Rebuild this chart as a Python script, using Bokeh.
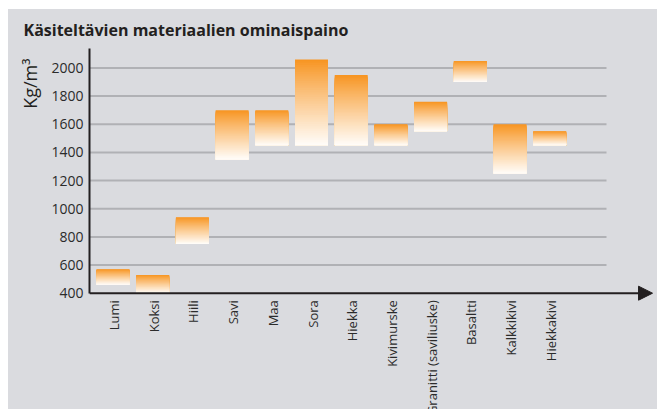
import math
from bokeh.plotting import figure
from bokeh.models import ColumnDataSource, FixedTicker, Title, Arrow, NormalHead, Range1d
from bokeh.core.properties import value
from bokeh.embed import file_html
from bokeh.resources import INLINE

# ---- data ----
categories = ["Lumi", "Koksi", "Hiili", "Savi", "Maa", "Sora", "Hiekka",
              "Kivimurske", "Granitti (saviliuske)", "Basaltti", "Kalkkikivi", "Hiekkakivi"]
low_values = [460, 400, 750, 1350, 1450, 1450, 1450, 1450, 1550, 1900, 1250, 1450]
high_values = [570, 530, 940, 1700, 1700, 2060, 1950, 1600, 1760, 2050, 1600, 1550]
y_ticks = [400, 600, 800, 1000, 1200, 1400, 1600, 1800, 2000]
title_text = "Käsiteltävien materiaalien ominaispaino"
unit_text = "Kg/m³"

BG = "#dadbdf"
DARK = "#231f20"
TXT = "#2b2b2b"
GRID = "#b0b1b5"
ORANGE = (247, 147, 30)
WHITE = (255, 253, 250)

x_start, x_end = -0.592, 13.715
y_start, y_end = -426, 2138
grid_end = 12.43
arrow_end = 13.59

p = figure(width=649, height=400, output_backend="svg", toolbar_location=None,
           x_range=Range1d(x_start, x_end), y_range=Range1d(y_start, y_end),
           x_axis_location=None, min_border_left=81, min_border_top=39,
           min_border_right=0, min_border_bottom=0, margin=(9, 0, 0, 8))
p.styles = {"background-color": BG}
p.background_fill_color = BG
p.border_fill_color = None
p.outline_line_color = None
p.xgrid.visible = False
p.ygrid.visible = False

# title
p.title.text = title_text
p.title.align = "left"
p.title.offset = -66
p.title.standoff = 15
p.title.text_font = "Open Sans"
p.title.text_font_style = "bold"
p.title.text_font_size = "16px"
p.title.text_color = DARK

# unit label on the left, at the top end
p.add_layout(Title(text=unit_text, align="right", offset=10, standoff=14,
                   text_font="Open Sans", text_font_style="normal",
                   text_font_size="18px", text_color=DARK), "left")

# y axis
ax = p.yaxis[0]
ax.ticker = FixedTicker(ticks=y_ticks)
ax.bounds = (y_ticks[0], y_end)
ax.axis_line_color = DARK
ax.axis_line_width = 2
ax.major_tick_line_color = None
ax.minor_tick_line_color = None
ax.major_tick_out = 0
ax.major_tick_in = 0
ax.minor_tick_out = 0
ax.major_label_text_font = "Open Sans"
ax.major_label_text_font_size = "14px"
ax.major_label_text_color = TXT
ax.major_label_standoff = 6

# grid lines (partial width)
gy = y_ticks[1:]
p.segment(x0=[x_start] * len(gy), x1=[grid_end] * len(gy), y0=gy, y1=gy,
          line_color=GRID, line_width=2)

# gradient bars built from stacked slices
N = 48
xs, tops, bots, cols = [], [], [], []
for i, (lo, hi) in enumerate(zip(low_values, high_values)):
    h = hi - lo
    for k in range(N):
        t = k / N
        tops.append(hi - h * t)
        bots.append(lo)
        xs.append(i)
        m = ((k + 0.5) / N) ** 0.9
        c = tuple(int(round(a + (b - a) * m)) for a, b in zip(ORANGE, WHITE))
        cols.append("#%02x%02x%02x" % c)
src = ColumnDataSource(dict(x=xs, top=tops, bottom=bots, color=cols))
p.vbar(x="x", top="top", bottom="bottom", width=0.83, fill_color="color",
       line_color=None, source=src)

# x axis arrow
p.add_layout(Arrow(x_start=x_start, y_start=y_ticks[0], x_end=arrow_end, y_end=y_ticks[0],
                   line_color=DARK, line_width=2,
                   end=NormalHead(size=14, fill_color=DARK, line_color=DARK, line_width=1)))

# category labels
cat_src = ColumnDataSource(dict(x=list(range(len(categories))),
                                y=[y_ticks[0]] * len(categories), text=categories))
p.text(x="x", y="y", text="text", source=cat_src, angle=math.pi / 2,
       text_align="right", text_baseline="alphabetic", x_offset=1, y_offset=7,
       text_font=value("Open Sans"), text_font_size="13px", text_color=TXT)

open("out.html", "w").write(file_html(p, INLINE))
